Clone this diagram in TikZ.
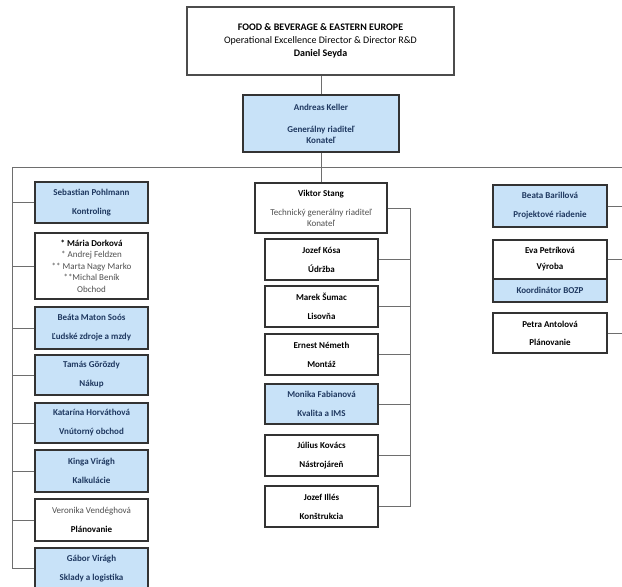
\documentclass[tikz,border=0pt]{standalone}
\usepackage{fontspec}
\setmainfont{Carlito}
\definecolor{boxblue}{RGB}{200,226,248}
\definecolor{navy}{RGB}{31,56,96}
\definecolor{linegray}{RGB}{110,110,110}
\definecolor{txtgray}{RGB}{80,80,80}
\tikzset{
  box/.style={rectangle, draw=black!80, line width=1.2pt, inner sep=0pt, align=center,
    font=\bfseries\fontsize{9}{11}\selectfont},
  bluebox/.style={box, fill=boxblue, text=navy},
  whitebox/.style={box, fill=white, text=black},
  link/.style={draw=linegray, line width=0.8pt},
  reg/.style={font=\mdseries\fontsize{9}{11}\selectfont}
}
\newcommand{\rg}[1]{{\mdseries\color{txtgray}#1}}
\begin{document}
\begin{tikzpicture}[x=1pt, y=-1pt]
        \useasboundingbox (0,0) rectangle (622,587);
        % head
        \node[box, fill=white, draw=black!70, minimum width=267pt, minimum height=68pt,
          font=\fontsize{10}{13}\selectfont] (top) at (320.5,41)
          {\bfseries FOOD \& BEVERAGE \& EASTERN EUROPE\\Operational Excellence Director \& Director R\&D\\\bfseries Daniel Seyda};
        \node[bluebox, minimum width=156pt, minimum height=57pt] (keller) at (321,123.5)
          {Andreas Keller\\[11pt]Generálny riaditeľ\\Konateľ};
        \coordinate (lbar) at (12,167);
        \coordinate (mbar) at (321,167);
        \coordinate (rend) at (622,167);
        % left column
        \node[bluebox, minimum width=113pt, minimum height=41pt] (pohlmann) at (91.5,202.5) {Sebastian Pohlmann\\[8pt]Kontroling};
        \node[whitebox, minimum width=113pt, minimum height=66pt, font=\bfseries\fontsize{9}{11.5}\selectfont] (dorkova) at (91.5,266)
          {* Mária Dorková\\\rg{* Andrej Feldzen}\\\rg{** Marta Nagy Marko}\\\rg{**Michal Beník}\\\rg{Obchod}};
        \node[bluebox, minimum width=113pt, minimum height=42pt] (soos) at (91.5,328) {Beáta Maton Soós\\[8pt]Ľudské zdroje a mzdy};
        \node[bluebox, minimum width=113pt, minimum height=40pt] (gorozdy) at (91.5,375) {Tamás Görözdy\\[8pt]Nákup};
        \node[bluebox, minimum width=113pt, minimum height=40pt] (horvathova) at (91.5,423) {Katarína Horváthová\\[8pt]Vnútorný obchod};
        \node[bluebox, minimum width=113pt, minimum height=42pt] (kinga) at (91.5,471) {Kinga Virágh\\[8pt]Kalkulácie};
        \node[whitebox, minimum width=113pt, minimum height=42pt] (vendeghova) at (91.5,520) {\rg{Veronika Vendéghová}\\[8pt]Plánovanie};
        \node[bluebox, minimum width=113pt, minimum height=41pt] (gabor) at (91.5,568.5) {Gábor Virágh\\[8pt]Sklady a logistika};
        % middle column
        \node[whitebox, minimum width=132pt, minimum height=50pt] (stang) at (321,208)
          {Viktor Stang\\[8pt]\rg{Technický generálny riaditeľ}\\\rg{Konateľ}};
        \coordinate (tbar) at (410,208);
        \node[whitebox, minimum width=113pt, minimum height=41pt] (kosa) at (321.5,259.5) {Jozef Kósa\\[8pt]Údržba};
        \node[whitebox, minimum width=113pt, minimum height=41pt] (sumac) at (321.5,306.5) {Marek Šumac\\[8pt]Lisovňa};
        \node[whitebox, minimum width=113pt, minimum height=41pt] (nemeth) at (321.5,354.5) {Ernest Németh\\[8pt]Montáž};
        \node[bluebox, minimum width=113pt, minimum height=40pt] (fabianova) at (321.5,404) {Monika Fabianová\\[8pt]Kvalita a IMS};
        \node[whitebox, minimum width=113pt, minimum height=41pt] (kovacs) at (321.5,455.5) {Július Kovács\\[8pt]Nástrojáreň};
        \node[whitebox, minimum width=113pt, minimum height=41pt] (illes) at (321.5,506.5) {Jozef Illés\\[8pt]Konštrukcia};
        % right column
        \node[bluebox, minimum width=114pt, minimum height=42pt] (barillova) at (550,206) {Beata Barillová\\[8pt]Projektové riadenie};
        \node[whitebox, minimum width=114pt, minimum height=39pt] (petrikova) at (550,259.5) {Eva Petríková\\[5pt]Výroba};
        \node[bluebox, minimum width=114pt, minimum height=23pt] (bozp) at (550,290.5) {Koordinátor BOZP};
        \node[whitebox, minimum width=114pt, minimum height=40pt] (antolova) at (550,333) {Petra Antolová\\[7pt]Plánovanie};
        % lines
        \draw[link] (top.south -| keller) -- (keller.north);
        \draw[link] (keller.south) -- (mbar);
        \draw[link] (lbar) -- (rend);
        \draw[link] (mbar) -- (stang.north);
        \draw[link] (lbar) |- (gabor.west);
        \foreach \n in {pohlmann, dorkova, soos, gorozdy, horvathova, kinga, vendeghova}
          \draw[link] (\n.west) -- (\n.west -| lbar);
        \draw[link] (stang.east) -- (tbar) |- (illes.east);
        \foreach \n in {kosa, sumac, nemeth, fabianova, kovacs}
          \draw[link] (\n.east) -- (\n.east -| tbar);
        \foreach \n in {barillova, petrikova, antolova}
          \draw[link] (\n.east) -- (\n.east -| rend);
\end{tikzpicture}
\end{document}
